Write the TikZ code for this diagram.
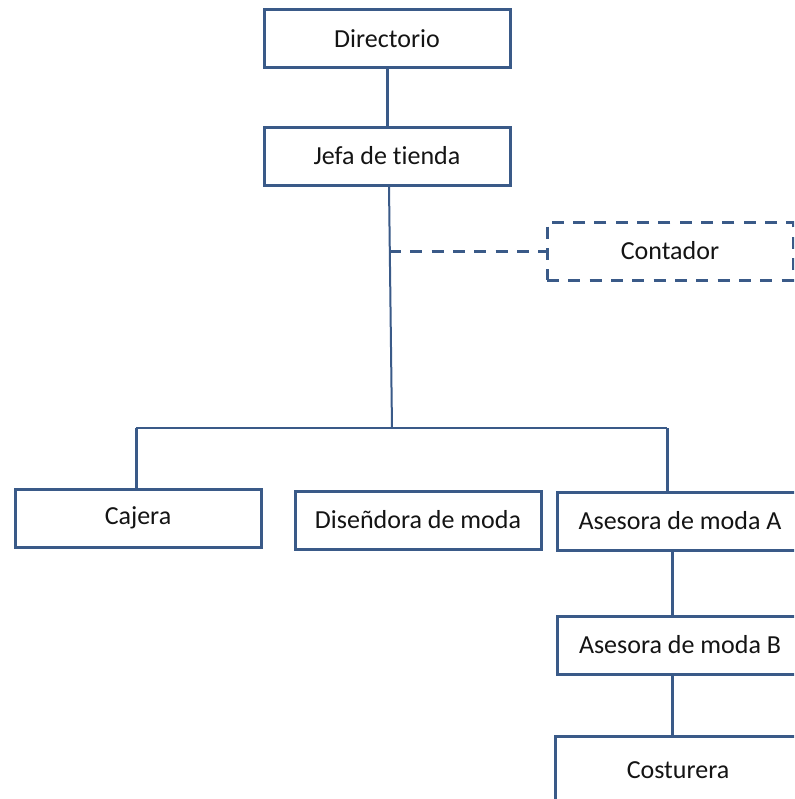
\documentclass[tikz,border=0pt]{standalone}
\usepackage{fontspec}
\setmainfont[Ligatures=NoCommon]{Carlito}
\definecolor{edge}{HTML}{3A5A88}
\definecolor{ink}{HTML}{141414}
\begin{document}
\begin{tikzpicture}[x=0.75pt,y=-0.75pt,
  post/.style={draw=edge,line width=2.25pt,fill=white,rectangle,
    minimum width=184.5pt,minimum height=43.5pt,inner sep=0pt,
    text=ink,font=\fontsize{19.5}{23}\selectfont},
  extpost/.style={post,dash pattern=on 9pt off 7pt},
  link/.style={draw=edge,line width=2.25pt},
  thinlink/.style={draw=edge,line width=1.5pt},
  dashlink/.style={draw=edge,line width=2.25pt,dash pattern=on 9pt off 7pt}]
\useasboundingbox (0,0) rectangle (794,799);
\clip (0,0) rectangle (794,799);
\fill[white] (0,0) rectangle (794,799);

% positions
\node[post] (dir)  at (387,39)  {Directorio};
\node[post] (jefa) at (387,156) {Jefa de tienda};
\node[extpost] (cont) at (670,251) {Contador};
\node[post] (caj)  at (138,518) {Cajera};
\node[post] (dis)  at (418,520) {Diseñdora de moda};
\node[post] (asA)  at (680,521) {Asesora de moda A};
\node[post] (asB)  at (680,645) {Asesora de moda B};
\node[post,minimum height=51pt] (cos) at (678,770) {Costurera};

% helper points of the connectors
\coordinate (busmid) at (392,428);
\coordinate (busL) at (136,428);
\coordinate (busR) at (667,428);
\coordinate (tap) at (389,251);
\coordinate (colB) at (672,0);

% connectors
\draw[link] (dir.south) -- (jefa.north);
\draw[thinlink] (jefa.south -| tap) -- (busmid);
\draw[dashlink] (tap) -- (cont.west);
\draw[thinlink] (busL) -- (busR);
\draw[link] (busL) -- (busL |- caj.north);
\draw[link] (busR) -- (busR |- asA.north);
\draw[link] (asA.south -| colB) -- (asB.north -| colB);
\draw[link] (asB.south -| colB) -- (cos.north -| colB);
\end{tikzpicture}
\end{document}
